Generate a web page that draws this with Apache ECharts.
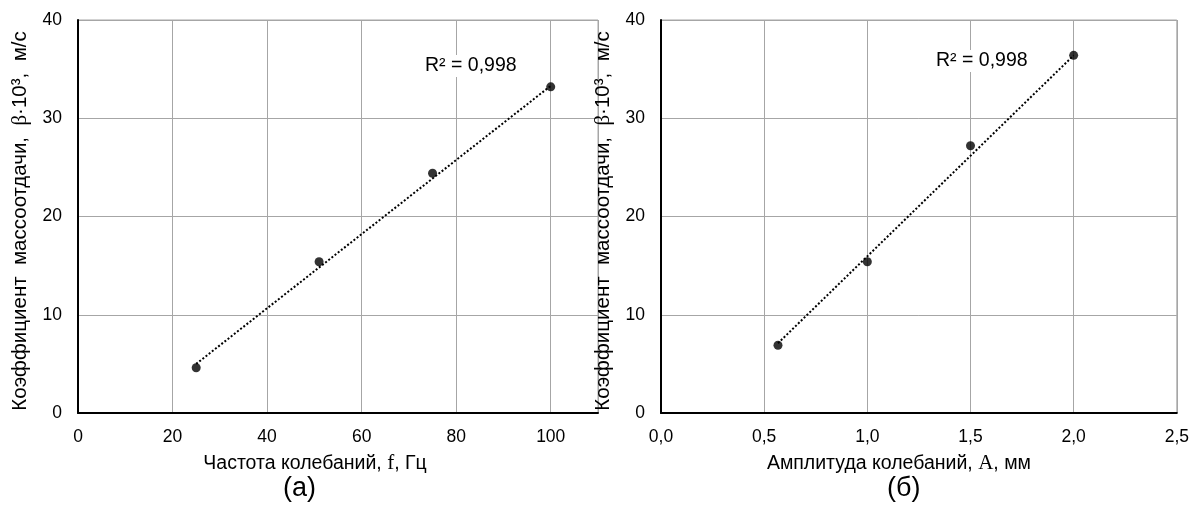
<!DOCTYPE html>
<html>
<head>
<meta charset="utf-8">
<script src="https://cdn.jsdelivr.net/npm/echarts@6/dist/echarts.min.js"></script>
<style>
  html, body { margin: 0; padding: 0; background: #fff; }
  #chart { width: 1192px; height: 513px; }
</style>
</head>
<body>
<div id="chart"></div>
<script>
// данные (а): частота колебаний
var freqX = [25, 51, 75, 100];
var betaFreq = [4.6, 15.4, 24.4, 33.2];
// линия тренда (а), концы
var trendFreqX = [25, 100];
var trendFreqY = [5.0, 33.3];

// данные (б): амплитуда колебаний
var amplX = [0.567, 1.0, 1.5, 2.0];
var betaAmpl = [6.9, 15.4, 27.2, 36.4];
var trendAmplX = [0.567, 2.0];
var trendAmplY = [7.1, 36.4];

var r2Text = ['R² = 0,998', 'R² = 0,998'];
var panelNames = ['(а)', '(б)'];

var font = 'Liberation Sans, Arial, sans-serif';
var serif = 'Liberation Serif, Times New Roman, serif';
var gridColor = '#a6a6a6';

function pairs(xs, ys) {
  var out = [];
  for (var i = 0; i < xs.length; i++) out.push([xs[i], ys[i]]);
  return out;
}

var yName = 'Коэффициент  массоотдачи,  {s|β}·10³,  м/с';
var nameRich = { s: { fontFamily: serif, fontSize: 21, color: '#000' } };

function yAxis(idx) {
  return {
    gridIndex: idx, type: 'value', min: 0, max: 40, interval: 10,
    name: yName, nameLocation: 'middle', nameGap: 47, nameRotate: 90,
    nameTextStyle: { fontFamily: font, fontSize: 20.5, color: '#000', rich: nameRich, padding: [0, 9, 0, 0] },
    axisLine: { show: true, lineStyle: { color: '#000', width: 2 } },
    axisTick: { show: false },
    axisLabel: { fontFamily: font, fontSize: 17.5, color: '#000', margin: 16 },
    splitLine: { lineStyle: { color: gridColor, width: 1 } }
  };
}

var chart = echarts.init(document.getElementById('chart'));

var option = {
  backgroundColor: '#fff',
  animation: false,
  grid: [
    { left: 78, top: 20, width: 520, height: 393, show: true, borderColor: gridColor, borderWidth: 1 },
    { left: 661, top: 20, width: 517, height: 393, show: true, borderColor: gridColor, borderWidth: 1 }
  ],
  xAxis: [
    {
      gridIndex: 0, type: 'value', min: 0, max: 110, interval: 20,
      name: 'Частота колебаний, {s|f}, Гц', nameLocation: 'middle', nameGap: 40,
      nameTextStyle: { fontFamily: font, fontSize: 19.5, color: '#000', rich: nameRich, padding: [0, 46, 0, 0] },
      axisLine: { show: true, onZero: false, lineStyle: { color: '#000', width: 2 } },
      axisTick: { show: false },
      axisLabel: { fontFamily: font, fontSize: 17.5, color: '#000', margin: 15, showMaxLabel: false },
      splitLine: { lineStyle: { color: gridColor, width: 1 } }
    },
    {
      gridIndex: 1, type: 'value', min: 0, max: 2.5, interval: 0.5,
      name: 'Амплитуда колебаний, {s|A}, мм', nameLocation: 'middle', nameGap: 40,
      nameTextStyle: { fontFamily: font, fontSize: 19.5, color: '#000', rich: nameRich, padding: [0, 40, 0, 0] },
      axisLine: { show: true, onZero: false, lineStyle: { color: '#000', width: 2 } },
      axisTick: { show: false },
      axisLabel: {
        fontFamily: font, fontSize: 17.5, color: '#000', margin: 15,
        formatter: function (v) { return v.toFixed(1).replace('.', ','); }
      },
      splitLine: { lineStyle: { color: gridColor, width: 1 } }
    }
  ],
  yAxis: [yAxis(0), yAxis(1)],
  series: [
    {
      type: 'line', xAxisIndex: 0, yAxisIndex: 0, data: pairs(trendFreqX, trendFreqY),
      showSymbol: false, symbol: 'none', z: 2,
      lineStyle: { color: '#000', width: 2, type: [2, 2] }
    },
    {
      type: 'scatter', xAxisIndex: 0, yAxisIndex: 0, data: pairs(freqX, betaFreq),
      symbol: 'circle', symbolSize: 9, itemStyle: { color: '#000' }, z: 3
    },
    {
      type: 'line', xAxisIndex: 1, yAxisIndex: 1, data: pairs(trendAmplX, trendAmplY),
      showSymbol: false, symbol: 'none', z: 2,
      lineStyle: { color: '#000', width: 2, type: [2, 2] }
    },
    {
      type: 'scatter', xAxisIndex: 1, yAxisIndex: 1, data: pairs(amplX, betaAmpl),
      symbol: 'circle', symbolSize: 9, itemStyle: { color: '#000' }, z: 3
    }
  ],
  graphic: [
    {
      type: 'text', left: 423, top: 55, z: 10,
      style: { text: r2Text[0], fontFamily: font, fontSize: 19.5, fill: '#000', backgroundColor: '#fff', padding: [1, 2] }
    },
    {
      type: 'text', left: 934, top: 50, z: 10,
      style: { text: r2Text[1], fontFamily: font, fontSize: 19.5, fill: '#000', backgroundColor: '#fff', padding: [1, 2] }
    },
    {
      type: 'text', left: 283, top: 475,
      style: { text: panelNames[0], fontFamily: font, fontSize: 27, fill: '#000' }
    },
    {
      type: 'text', left: 887, top: 475,
      style: { text: panelNames[1], fontFamily: font, fontSize: 27, fill: '#000' }
    }
  ]
};

chart.setOption(option);
</script>
</body>
</html>
